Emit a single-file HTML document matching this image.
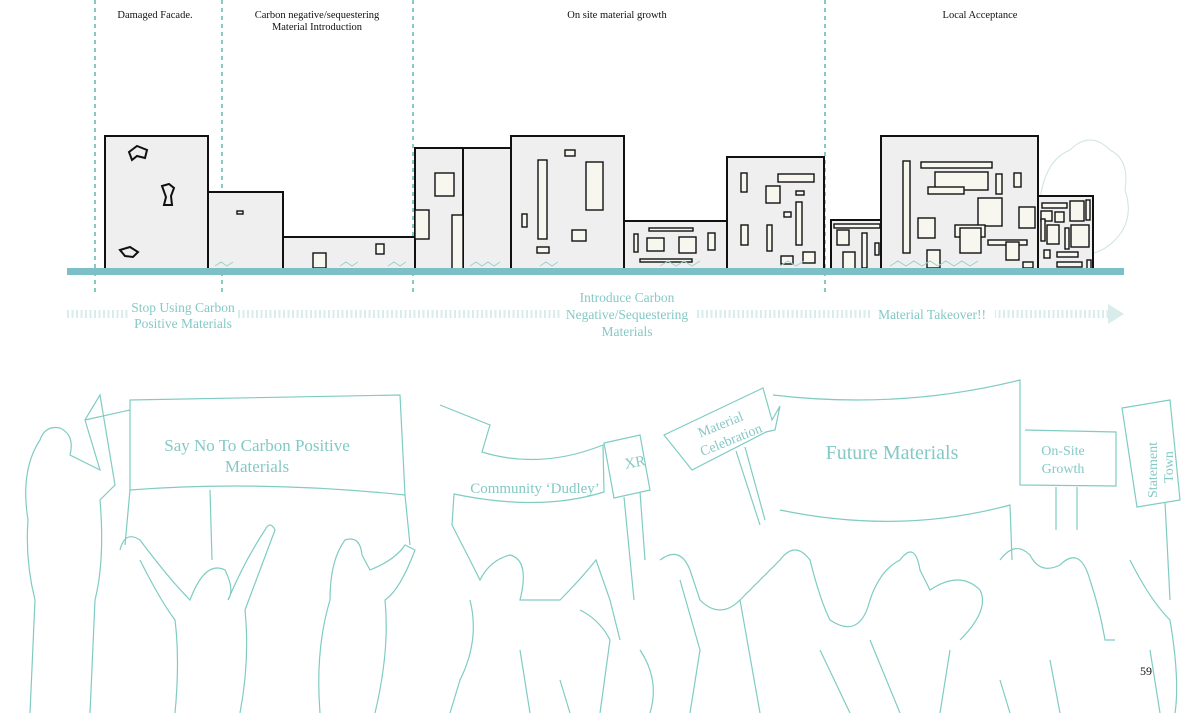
<!DOCTYPE html>
<html><head><meta charset="utf-8"><style>
html,body{margin:0;padding:0;background:#fff;}
svg{display:block;}
text{font-family:"Liberation Serif",serif;}
</style></head><body>
<svg width="1200" height="713" viewBox="0 0 1200 713" xmlns="http://www.w3.org/2000/svg">
<!-- top labels -->
<g font-size="10.5" fill="#111" text-anchor="middle">
<text x="155" y="18">Damaged Facade.</text>
<text x="317" y="18">Carbon negative/sequestering</text>
<text x="317" y="30">Material Introduction</text>
<text x="617" y="18">On site material growth</text>
<text x="980" y="18">Local Acceptance</text>
</g>
<!-- dashed dividers -->
<g stroke="#5fb8b0" stroke-width="1.5" stroke-dasharray="4,4">
<line x1="95" y1="0" x2="95" y2="296"/>
<line x1="222" y1="0" x2="222" y2="296"/>
<line x1="413" y1="0" x2="413" y2="296"/>
<line x1="825" y1="0" x2="825" y2="296"/>
</g>
<!-- faint trees right -->
<g fill="none" stroke="#cfe3e2" stroke-width="1">
<path d="M1040 200 q5 -40 30 -50 q20 -20 40 0 q20 10 15 40 q10 30 -10 50 q-20 20 -40 10"/>
<path d="M880 250 q-10 -30 10 -40 q20 -10 30 10 q30 -20 40 10"/>
<path d="M600 260 q0 -20 10 -20 q10 0 10 20"/>
</g>
<!-- buildings -->
<g fill="#efefef" stroke="#111" stroke-width="2">
<rect x="105" y="136" width="103" height="134"/>
<rect x="208" y="192" width="75" height="78"/>
<rect x="283" y="237" width="132" height="33"/>
<rect x="415" y="148" width="48" height="122"/>
<rect x="463" y="148" width="48" height="122"/>
<rect x="511" y="136" width="113" height="134"/>
<rect x="624" y="221" width="103" height="49"/>
<rect x="727" y="157" width="97" height="113"/>
<rect x="831" y="220" width="50" height="50"/>
<rect x="881" y="136" width="157" height="134"/>
<rect x="1038" y="196" width="55" height="74"/>
</g>
<g fill="none" stroke="#111" stroke-width="2">
<path d="M129 152 l8 -6 l10 4 l-2 8 l-8 -2 l-5 4z"/>
<path d="M162 186 l7 -2 l5 4 l-3 8 l1 9 l-8 0 l2 -8z"/>
<path d="M120 250 l10 -3 l8 5 l-5 5 l-8 -1z"/>
</g>
<g fill="#f7f7f0" stroke="#111" stroke-width="1.4">
<rect x="237" y="211" width="6" height="3"/>
<rect x="313" y="253" width="13" height="15"/>
<rect x="376" y="244" width="8" height="10"/>
<rect x="435" y="173" width="19" height="23"/>
<rect x="415" y="210" width="14" height="29"/>
<rect x="452" y="215" width="11" height="55"/>
<rect x="565" y="150" width="10" height="6"/>
<rect x="538" y="160" width="9" height="79"/>
<rect x="586" y="162" width="17" height="48"/>
<rect x="522" y="214" width="5" height="13"/>
<rect x="572" y="230" width="14" height="11"/>
<rect x="537" y="247" width="12" height="6"/>
<rect x="649" y="228" width="44" height="3"/>
<rect x="634" y="234" width="4" height="18"/>
<rect x="647" y="238" width="17" height="13"/>
<rect x="679" y="237" width="17" height="16"/>
<rect x="708" y="233" width="7" height="17"/>
<rect x="640" y="259" width="52" height="3"/>
<rect x="741" y="173" width="6" height="19"/>
<rect x="778" y="174" width="36" height="8"/>
<rect x="766" y="186" width="14" height="17"/>
<rect x="796" y="191" width="8" height="4"/>
<rect x="796" y="202" width="6" height="43"/>
<rect x="784" y="212" width="7" height="5"/>
<rect x="741" y="225" width="7" height="20"/>
<rect x="767" y="225" width="5" height="26"/>
<rect x="781" y="256" width="12" height="8"/>
<rect x="803" y="252" width="12" height="11"/>
<rect x="834" y="224" width="46" height="4"/>
<rect x="837" y="230" width="12" height="15"/>
<rect x="862" y="233" width="5" height="35"/>
<rect x="843" y="252" width="12" height="18"/>
<rect x="875" y="243" width="4" height="12"/>
<rect x="903" y="161" width="7" height="92"/>
<rect x="921" y="162" width="71" height="6"/>
<rect x="935" y="172" width="53" height="18"/>
<rect x="996" y="174" width="6" height="20"/>
<rect x="1014" y="173" width="7" height="14"/>
<rect x="928" y="187" width="36" height="7"/>
<rect x="978" y="198" width="24" height="28"/>
<rect x="918" y="218" width="17" height="20"/>
<rect x="955" y="225" width="30" height="12"/>
<rect x="1019" y="207" width="16" height="21"/>
<rect x="960" y="228" width="21" height="25"/>
<rect x="988" y="240" width="39" height="5"/>
<rect x="1006" y="242" width="13" height="18"/>
<rect x="1023" y="262" width="10" height="6"/>
<rect x="927" y="250" width="13" height="18"/>
<rect x="1042" y="203" width="25" height="5"/>
<rect x="1041" y="211" width="11" height="10"/>
<rect x="1055" y="212" width="9" height="10"/>
<rect x="1070" y="201" width="14" height="20"/>
<rect x="1086" y="200" width="4" height="20"/>
<rect x="1041" y="219" width="4" height="22"/>
<rect x="1047" y="225" width="12" height="19"/>
<rect x="1065" y="228" width="4" height="21"/>
<rect x="1071" y="225" width="18" height="22"/>
<rect x="1044" y="250" width="6" height="8"/>
<rect x="1057" y="252" width="21" height="5"/>
<rect x="1057" y="262" width="25" height="5"/>
<rect x="1087" y="260" width="4" height="9"/>
</g>
<!-- ground -->
<rect x="67" y="268" width="1057" height="7" fill="#7cbfc6"/>
<g stroke="#9fd0cf" stroke-width="1" fill="none">
<path d="M215 266 l6 -4 l6 4 l6 -4 M340 266 l6 -4 l6 4 l6 -4 M388 266 l6 -4 l6 4 l6 -4 M470 266 l6 -4 l6 4 l6 -4 l6 4 l6 -4 M540 266 l6 -4 l6 4 l6 -4 M660 266 l8 -5 l8 5 l8 -5 l8 5 l8 -5 M780 266 l8 -5 l8 5 l8 -5 M890 266 l8 -5 l8 5 l8 -5 l8 5 l8 -5 l8 5 l8 -5 l8 5 l8 -5 l8 5 l8 -5"/>
</g>
<!-- dashed arrow -->
<line x1="67" y1="314" x2="1108" y2="314" stroke="#d9ecec" stroke-width="8" stroke-dasharray="2,2.5"/>
<polygon points="1108,304 1124,314 1108,324" fill="#d9ecec"/>
<rect x="128" y="300" width="110" height="30" fill="#fff"/>
<rect x="560" y="290" width="135" height="45" fill="#fff"/>
<rect x="870" y="305" width="125" height="18" fill="#fff"/>
<g font-size="13.5" fill="#84c9c6" text-anchor="middle">
<text x="183" y="312">Stop Using Carbon</text>
<text x="183" y="328">Positive Materials</text>
<text x="627" y="302">Introduce Carbon</text>
<text x="627" y="319">Negative/Sequestering</text>
<text x="627" y="336">Materials</text>
<text x="932" y="319">Material Takeover!!</text>
</g>
<!-- crowd -->
<g fill="none" stroke="#7fccc3" stroke-width="1.2">
<!-- left figures -->
<path d="M30 713 L35 600 Q25 560 28 520 Q20 470 40 440 Q45 425 60 428 Q75 435 70 455 L100 470 L85 420 L100 395 L115 485 L100 500 Q105 560 95 600 L90 713"/>
<path d="M85 420 L130 410"/>
<path d="M130 400 L400 395 L405 495 Q260 480 130 490 Z"/>
<path d="M120 550 Q125 530 140 540 Q170 580 190 600 Q205 560 225 570 Q235 590 228 600 Q245 560 265 530 Q270 520 275 530 L245 610 Q250 660 240 713 M175 713 Q180 660 175 620 Q160 600 140 560"/>
<path d="M320 713 Q315 650 330 600 Q330 560 345 540 Q360 535 362 555 L370 570 Q395 560 405 545 L415 550 Q400 590 385 600 Q390 650 375 713"/>
<path d="M130 490 L125 545 M210 490 L212 560 M405 495 L410 545"/>
<!-- right banners -->
<path d="M440 405 L490 425 L482 452 Q540 470 603 445 L604 492 Q540 512 454 494 L452 525"/>
<path d="M604 443 L640 435 L650 490 L614 498 Z"/>
<path d="M624 497 L634 600 M640 492 L645 560"/>
<path d="M664 435 L763 388 L772 420 L780 406 L775 430 L766 432 L692 470 Z"/>
<path d="M736 451 L760 525 M745 447 L765 520"/>
<path d="M773 395 Q900 410 1020 380 L1020 485 L1116 486 L1116 432 L1025 430"/>
<path d="M780 510 Q900 535 1010 505 L1012 560"/>
<path d="M1056 487 L1056 530 M1077 487 L1077 530"/>
<path d="M1122 408 L1170 400 L1180 500 L1137 507 Z"/>
<path d="M1165 502 L1170 600"/>
<!-- heads/bodies -->
<path d="M452 525 Q470 560 480 580 Q490 560 510 555 Q530 560 520 600 L560 600 Q580 580 596 560 L610 600 L620 640"/>
<path d="M660 560 Q680 545 690 570 L700 600 Q720 620 740 600 Q760 580 780 560 Q795 540 810 560 Q820 600 830 620 Q860 640 870 600 Q880 570 900 560 Q915 540 920 570 L930 590 Q960 570 980 590 Q990 610 960 640"/>
<path d="M1000 560 Q1015 540 1030 555 Q1040 575 1060 565 Q1080 545 1090 580 Q1100 610 1105 640 L1115 640"/>
<path d="M580 610 Q600 620 610 640 L600 713 M680 580 L700 650 L690 713 M740 600 L760 713 M820 650 L850 713 M870 640 L900 713 M950 650 L940 713 M1000 680 L1010 713 M1050 660 L1060 713 M1150 650 L1160 713"/>
<path d="M470 600 Q480 640 460 680 L450 713 M520 650 L530 713 M560 680 L570 713 M640 650 Q660 680 650 713"/>
<path d="M1130 560 Q1150 600 1170 620 Q1180 680 1175 713"/>
</g>
<g fill="#84c9c6" text-anchor="middle">
<text x="257" y="451" font-size="17">Say No To Carbon Positive</text>
<text x="257" y="472" font-size="17">Materials</text>
<text x="535" y="493" font-size="15">Community ‘Dudley’</text>
<text x="635" y="467" font-size="15" transform="rotate(-10 635 462)">XR</text>
<text x="726" y="428" font-size="14" transform="rotate(-22 726 438)">Material</text>
<text x="730" y="446" font-size="14" transform="rotate(-22 726 438)">Celebration</text>
<text x="892" y="459" font-size="20">Future Materials</text>
<text x="1063" y="455" font-size="14">On-Site</text>
<text x="1063" y="473" font-size="14">Growth</text>
<text x="1157" y="470" font-size="14" transform="rotate(-90 1157 470)">Statement</text>
<text x="1173" y="467" font-size="14" transform="rotate(-90 1173 467)">Town</text>
</g>
<text x="1146" y="675" font-size="12" fill="#111" text-anchor="middle">59</text>
</svg>
</body></html>
